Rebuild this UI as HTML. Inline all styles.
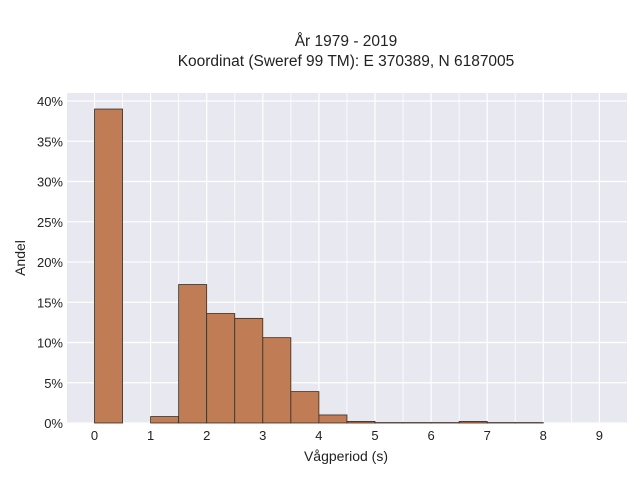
<!DOCTYPE html>
<html><head><meta charset="utf-8"><style>
body{margin:0;background:#fff;}
svg text{font-family:"Liberation Sans",sans-serif;fill:#222;}
</style></head><body>
<svg id="chart" width="640" height="480">
<text x="346" y="46" text-anchor="middle" font-size="15.5">År 1979 - 2019</text>
<text x="346" y="66" text-anchor="middle" font-size="15.5">Koordinat (Sweref 99 TM): E 370389, N 6187005</text>
<rect x="67" y="93" width="560" height="330" fill="#e8e8f0"/>
<g id="grid"></g>
<g id="bars"></g>
<g id="ticks"></g>
<text x="346" y="461" text-anchor="middle" font-size="14">Vågperiod (s)</text>
<text transform="translate(25,258) rotate(-90)" text-anchor="middle" font-size="14">Andel</text>
</svg>
<script>
const binStarts=[0,0.5,1,1.5,2,2.5,3,3.5,4,4.5,5,5.5,6,6.5,7,7.5];
const shares=[39.0,0,0.8,17.2,13.6,13.0,10.6,3.9,1.0,0.2,0.05,0.05,0.05,0.2,0.05,0.05];
const xTicks=[0,1,2,3,4,5,6,7,8,9];
const yTicks=[0,5,10,15,20,25,30,35,40];
const binWidth=0.5;
const NS="http://www.w3.org/2000/svg";
const X=v=>94.5+v*56.1;
const Y=v=>423-v*8.05;
const grid=document.getElementById('grid'),bars=document.getElementById('bars'),ticks=document.getElementById('ticks');
function mk(tag,attrs,parent){const e=document.createElementNS(NS,tag);for(const k in attrs)e.setAttribute(k,attrs[k]);parent.appendChild(e);return e;}
for(let v=-0.5;v<=9.5;v+=0.5){
  const l=mk('line',{x1:X(v),x2:X(v),y1:93,y2:423,stroke:'#fff','stroke-width':Number.isInteger(v)?1.2:0.8},grid);
  
  
}
yTicks.forEach(t=>{
  const l=mk('line',{x1:67,x2:627,y1:Y(t),y2:Y(t),stroke:'#fff','stroke-width':1.2},grid);
  
  
  const tx=mk('text',{x:63,y:Y(t)+5,'text-anchor':'end','font-size':13},ticks);
  tx.textContent=t+'%';
  
  
});
xTicks.forEach(t=>{
  const tx=mk('text',{x:X(t),y:440,'text-anchor':'middle','font-size':13},ticks);
  tx.textContent=t;
  
  
});
binStarts.forEach((b,i)=>{
  if(shares[i]<=0)return;
  const r=mk('rect',{x:X(b),y:Y(shares[i]),width:X(b+binWidth)-X(b),height:Y(0)-Y(shares[i]),fill:'#c07c55',stroke:'#3a2a20','stroke-width':0.8},bars);
  
  
});
</script>
</body></html>
